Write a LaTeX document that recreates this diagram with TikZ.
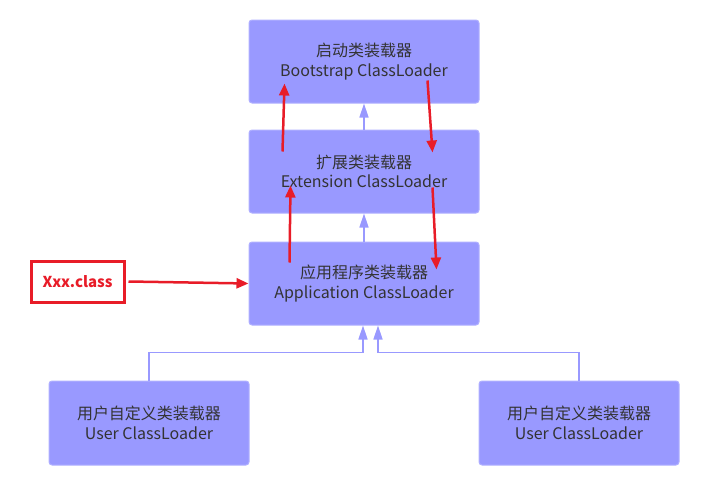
\documentclass[tikz,border=0pt]{standalone}
\usepackage{fontspec}
\newfontfamily\cjk{Noto Sans CJK SC}
\usetikzlibrary{arrows.meta,calc}
\definecolor{boxfill}{HTML}{9999FF}
\definecolor{boxline}{HTML}{B0B0FF}
\definecolor{conn}{HTML}{9999FF}
\definecolor{redc}{RGB}{232,28,40}
\definecolor{txt}{HTML}{333333}
\tikzset{
  loader/.style={draw=boxline, line width=1pt, fill=boxfill, rounded corners=3pt,
    minimum width=230pt, minimum height=83pt, align=center, text=txt,
    font=\cjk\fontsize{16}{19.5}\selectfont, inner sep=0pt},
  userbox/.style={loader, minimum width=200pt, minimum height=84pt},
  xbox/.style={draw=redc, line width=3pt, fill=white, minimum width=93pt, minimum height=41pt,
    text=redc, font=\cjk\bfseries\fontsize{15}{18}\selectfont, inner sep=0pt},
  parent/.style={draw=conn, line width=1.5pt, -{Triangle[length=14pt,width=9pt]}},
  redarrow/.style={draw=redc, line width=2.5pt, -{Triangle[length=12pt,width=10pt]}},
}
\begin{document}
\begin{tikzpicture}[x=1pt,y=-1pt]
\useasboundingbox (0,0) rectangle (716,485);
\node[loader] (boot) at (364,61.5) {启动类装载器\\Bootstrap ClassLoader};
\node[loader] (ext) at (364,171.5) {扩展类装载器\\Extension ClassLoader};
\node[loader] (app) at (364,283.5) {应用程序类装载器\\Application ClassLoader};
\node[userbox] (ul) at (149,423) {用户自定义类装载器\\User ClassLoader};
\node[userbox] (ur) at (579,423) {用户自定义类装载器\\User ClassLoader};
\node[xbox] (xxx) at (77.5,281.5) {Xxx.class};
% parent links
\draw[parent] (ext.north) -- (boot.south);
\draw[parent] (app.north) -- (ext.south);
\draw[parent] (ul.north) -- ++(0,-28) -| ($(app.south)+(-1,0)$);
\draw[parent] (ur.north) -- ++(0,-28) -| ($(app.south)+(14,0)$);
% red delegation arrows
\draw[redarrow] ($(ext.north west)+(34,22)$) -- ($(boot.south west)+(36,-20)$);
\draw[redarrow] ($(boot.south west)+(179,-23)$) -- ($(ext.north west)+(184,23)$);
\draw[redarrow] ($(app.north west)+(41,21)$) -- ($(ext.south west)+(42,-28)$);
\draw[redarrow] ($(ext.south west)+(184,-26)$) -- ($(app.north west)+(188,28)$);
\draw[redarrow] (xxx.east) ++(3,0) -- (app.west);
\end{tikzpicture}
\end{document}
